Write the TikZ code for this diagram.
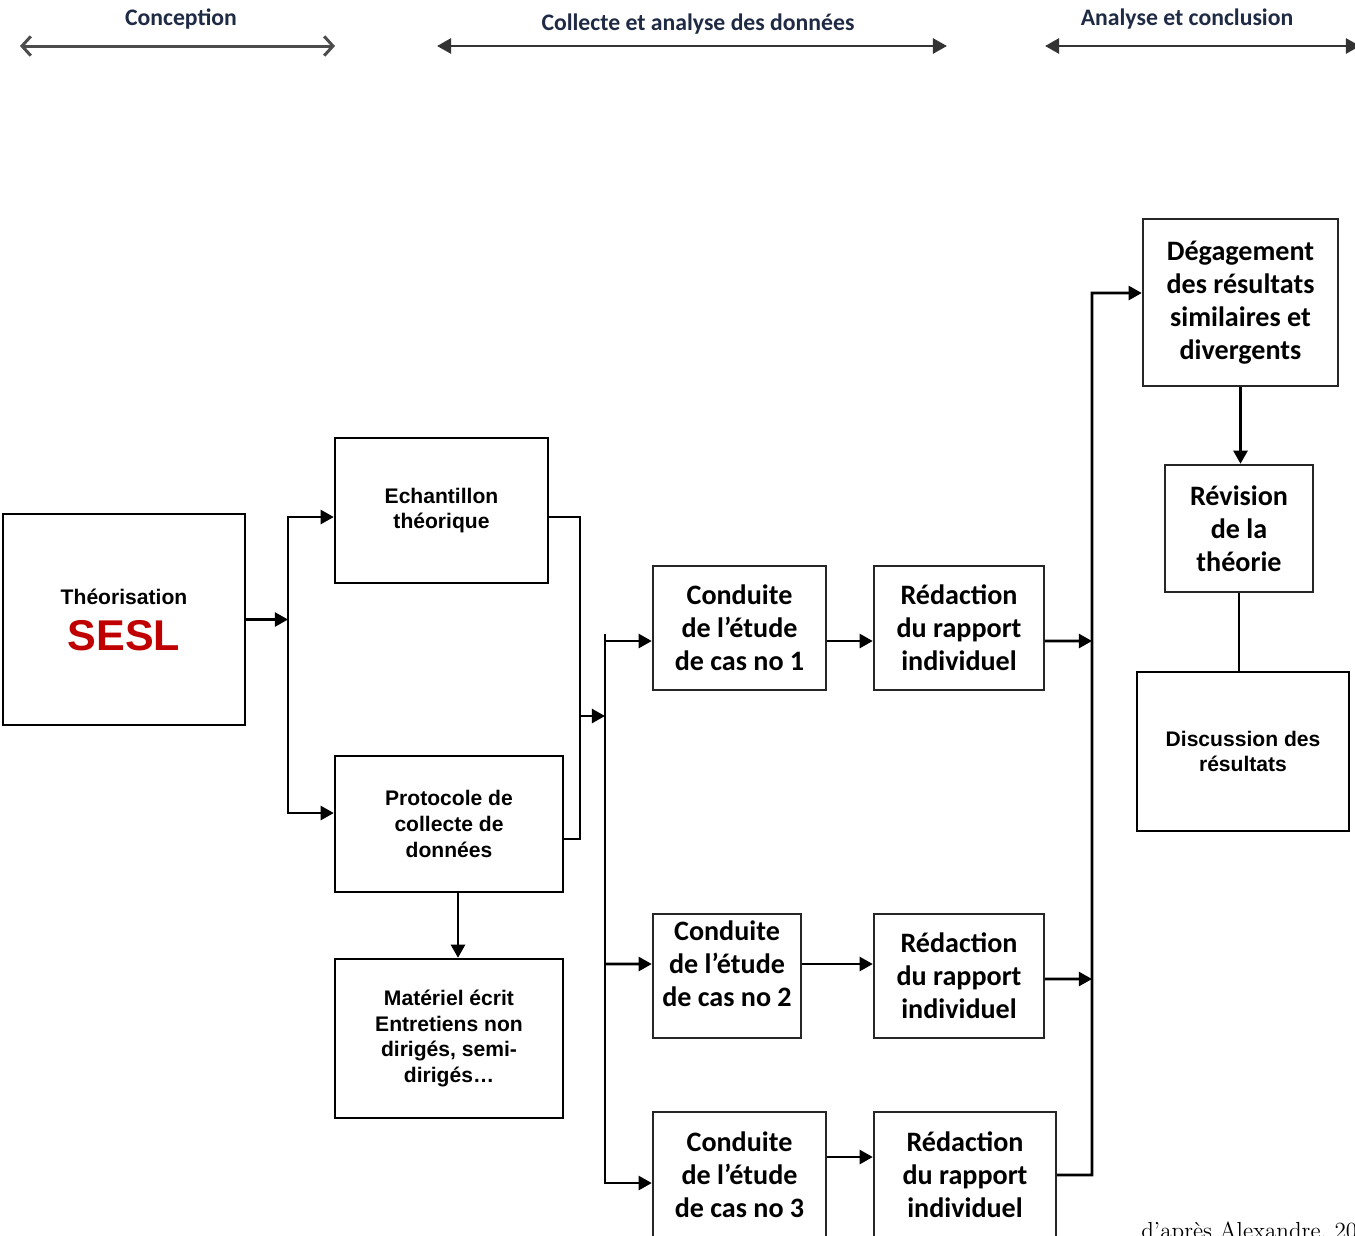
\documentclass[tikz,border=0pt]{standalone}
\usepackage{fontspec}
\newfontfamily\calfont{Carlito}
\newfontfamily\arifont{Liberation Sans}
\usetikzlibrary{arrows.meta}
\definecolor{hdr}{HTML}{1F2A44}
\definecolor{sesl}{HTML}{C00000}
\tikzset{
 sz/.style 2 args={minimum width=#1*0.02cm, minimum height=#2*0.02cm},
 box/.style={draw, line width=1.4pt, inner sep=0pt, align=center},
 cbox/.style={box, draw=black!85, font=\calfont\bfseries\fontsize{16}{18.7}\selectfont},
 abox/.style={box, font=\arifont\bfseries\fontsize{12}{14.7}\selectfont},
 hdrtext/.style={text=hdr, font=\calfont\bfseries\fontsize{13.5}{16}\selectfont},
 conn/.style={line width=1.5pt},
 arr/.style={conn, -{Triangle[length=7.5pt,width=8pt]}},
 harr/.style={line width=1.6pt, black!80, {Triangle[length=8pt,width=8.5pt]}-{Triangle[length=8pt,width=8.5pt]}},
 oarr/.style={line width=1.7pt, black!70, {Straight Barb[length=5pt,width=11pt]}-{Straight Barb[length=5pt,width=11pt]}},
}
\begin{document}
\begin{tikzpicture}[x=0.02cm,y=-0.02cm]
\useasboundingbox (0,0) rectangle (1355,1235);
\clip (0,0) rectangle (1355,1235);
\fill[white] (0,0) rectangle (1355,1235);

% headers
\node[hdrtext] (h1) at (181,19) {Conception};
\node[hdrtext] (h2) at (698,24) {Collecte et analyse des données};
\node[hdrtext] (h3) at (1187,19) {Analyse et conclusion};
\coordinate (h1a) at (20,46); \coordinate (h1b) at (335,46);
\coordinate (h2a) at (437,46); \coordinate (h2b) at (947,46);
\coordinate (h3a) at (1045,46); \coordinate (h3b) at (1360,46);
\draw[oarr] (h1a) -- (h1b);
\draw[harr] (h2a) -- (h2b);
\draw[harr] (h3a) -- (h3b);

% boxes
\node[abox, sz={242}{211}] (theo) at (124,619.5)
  {Théorisation\\[8pt]{\color{sesl}\fontsize{24.5}{26}\selectfont SESL}};
\node[abox, sz={213}{145}] (ech) at (441.5,510.5) {Echantillon\\théorique};
\node[abox, sz={228}{136}] (prot) at (449,824) {Protocole de\\collecte de\\données};
\node[abox, sz={228}{159}] (mat) at (449,1038.5) {Matériel écrit\\Entretiens non\\dirigés, semi-\\dirigés…};

\node[cbox, sz={173}{124}] (c1) at (739.5,628) {Conduite\\de l’étude\\de cas no 1};
\node[cbox, sz={170}{124}] (r1) at (959,628) {Rédaction\\du rapport\\individuel};
\node[cbox, sz={148}{124}] (c2) at (727,976) {Conduite\\de l’étude\\de cas no 2\rule[-14pt]{0pt}{1pt}};
\node[cbox, sz={170}{124}] (r2) at (959,976) {Rédaction\\du rapport\\individuel};
\node[cbox, sz={173}{126}] (c3) at (739.5,1175) {Conduite\\de l’étude\\de cas no 3};
\node[cbox, sz={182}{126}] (r3) at (965,1175) {Rédaction\\du rapport\\individuel};

\node[cbox, sz={195}{167}] (deg) at (1240.5,302.5) {Dégagement\\des résultats\\similaires et\\divergents};
\node[cbox, sz={148}{127}] (rev) at (1239,528.5) {Révision\\de la\\théorie};
\node[abox, sz={212}{159}] (disc) at (1243,751.5) {Discussion des\\résultats};

% connectors: left part
\coordinate (jA) at (288,619.5);
\draw[arr] (theo.east) -- (jA);
\draw[arr] (jA) |- ([yshift=-0.13cm]ech.west);
\draw[arr] (jA) |- ([yshift=0.22cm]prot.west);
\draw[arr] ([xshift=0.18cm]prot.south) -- ([xshift=0.18cm]mat.north);

\coordinate (jB) at (580,716);
\coordinate (jC) at (605,716);
\draw[conn] ([yshift=-0.13cm]ech.east) -| (jB) |- ([yshift=-0.3cm]prot.east);
\draw[arr] (jB) -- (jC);

% distribution bus
\coordinate (bTop) at (605,634);
\coordinate (b2) at (605,964);
\draw[arr] (bTop) |- ([yshift=-0.26cm]c1.west);
\draw[arr] (bTop) |- ([yshift=-0.16cm]c3.west);
\draw[arr] (b2) -- ([yshift=0.24cm]c2.west);

% case rows
\draw[arr] ([yshift=-0.26cm]c1.east) -- ([yshift=-0.26cm]r1.west);
\draw[arr] ([yshift=0.24cm]c2.east) -- ([yshift=0.24cm]r2.west);
\draw[arr] ([yshift=0.36cm]c3.east) -- ([yshift=0.36cm]r3.west);

% collecting bus
\coordinate (k1) at (1092,641);
\coordinate (k2) at (1092,979);
\coordinate (kTop) at (1092,293);
\draw[arr] ([yshift=-0.26cm]r1.east) -- (k1);
\draw[arr] ([yshift=-0.06cm]r2.east) -- (k2);
\draw[arr] (r3.east) -| (kTop) -- ([yshift=0.19cm]deg.west);

% right column
\draw[arr] (deg.south) -- (deg.south |- rev.north);
\draw[conn] (rev.south) -- (rev.south |- disc.north);

% source
\node[anchor=base west, font=\fontsize{13.2}{15}\selectfont, inner sep=0pt] (src) at (1141,1238) {d’après Alexandre, 20};
\end{tikzpicture}
\end{document}
